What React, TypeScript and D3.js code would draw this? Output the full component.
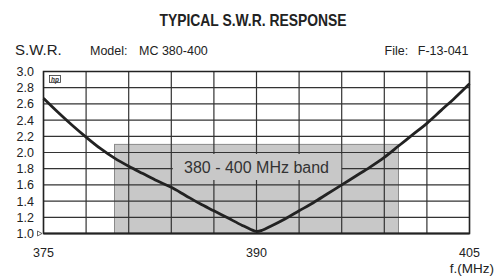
import React from "react";
import * as d3 from "d3";

const freqs = [375, 376, 377, 378, 379, 380, 381, 382, 383, 384, 385, 386, 387, 388, 389, 389.6, 390, 390.4, 391, 392, 393, 394, 395, 396, 397, 398, 399, 400, 401, 402, 403, 404, 405];
const swr = [2.67, 2.5, 2.34, 2.19, 2.05, 1.93, 1.83, 1.74, 1.65, 1.57, 1.47, 1.37, 1.28, 1.19, 1.1, 1.05, 1.025, 1.04, 1.09, 1.18, 1.28, 1.38, 1.49, 1.6, 1.71, 1.82, 1.94, 2.08, 2.22, 2.36, 2.52, 2.68, 2.85];
const yTicks = [1.0, 1.2, 1.4, 1.6, 1.8, 2.0, 2.2, 2.4, 2.6, 2.8, 3.0];
const xGrid = [375, 378, 381, 384, 387, 390, 393, 396, 399, 402, 405];
const xLabels = [375, 390, 405];
const band = { from: 380, to: 400, top: 2.1, label: "380 - 400 MHz band" };
const labelBox = { from: 384, to: 396 };

const FONT = "'Liberation Sans', Arial, Helvetica, sans-serif";

export default function App() {
  const x = d3.scaleLinear().domain([375, 405]).range([43.5, 469.5]);
  const y = d3.scaleLinear().domain([1, 3]).range([233.5, 71.5]);
  const pts: [number, number][] = freqs.map((f, i) => [f, swr[i]]);
  const line = d3
    .line<[number, number]>()
    .x((d) => x(d[0]))
    .y((d) => y(d[1]))
    .curve(d3.curveCatmullRom.alpha(0.5));

  return (
    <svg
      width={495}
      height={276}
      style={{ position: "absolute", left: 0, top: 0, background: "#fff" }}
      fontFamily={FONT}
    >
      <text x={253} y={26} textAnchor="middle" fontWeight="bold" fontSize={16.5} textLength={187} lengthAdjust="spacingAndGlyphs" fill="#222">
        TYPICAL S.W.R. RESPONSE
      </text>
      <text x={15} y={55} fontSize={15} fill="#222">S.W.R.</text>
      <text x={90} y={55} fontSize={12.5} fill="#222">Model:</text>
      <text x={139} y={55} fontSize={12.5} fill="#222">MC 380-400</text>
      <text x={384.5} y={55} fontSize={12.5} fill="#222">File:</text>
      <text x={468.5} y={55} fontSize={12.5} textAnchor="end" fill="#222">F-13-041</text>

      {/* band */}
      <rect
        x={x(band.from)}
        y={y(band.top)}
        width={x(band.to) - x(band.from)}
        height={y(1) - y(band.top)}
        fill="#c8c8c8"
        stroke="#8a8a8a"
        strokeWidth={1}
      />

      {/* grid */}
      {yTicks.map((t) => (
        <line key={"h" + t} x1={x(375)} x2={x(405)} y1={y(t)} y2={y(t)} stroke="#333" strokeWidth={1.2} />
      ))}
      {xGrid.map((f) => (
        <line key={"v" + f} x1={x(f)} x2={x(f)} y1={y(1)} y2={y(3)} stroke="#333" strokeWidth={1.2} />
      ))}
      <rect x={x(375)} y={y(3)} width={x(405) - x(375)} height={y(1) - y(3)} fill="none" stroke="#222" strokeWidth={1.5} />
      <line x1={x(375)} x2={x(405)} y1={y(1)} y2={y(1)} stroke="#222" strokeWidth={2} />

      {/* band label */}
      <rect x={x(labelBox.from) + 1.5} y={154} width={x(labelBox.to) - x(labelBox.from) - 2} height={26} fill="#c8c8c8" />
      <text x={x(390)} y={173} textAnchor="middle" fontSize={16} fill="#333">
        {band.label}
      </text>

      {/* logo */}
      <rect x={49.5} y={75.5} width={11} height={7} fill="none" stroke="#333" strokeWidth={0.8} />
      <text x={55} y={81.5} textAnchor="middle" fontSize={6.5} fontStyle="italic" fontWeight="bold" fill="#333">hp</text>

      {/* curve */}
      <path d={line(pts) || ""} fill="none" stroke="#222" strokeWidth={2.8} strokeLinejoin="round" />

      {/* y labels */}
      {yTicks.map((t) => (
        <text key={"yl" + t} x={34} y={y(t) + 4.5} textAnchor="end" fontSize={12.5} fill="#222">
          {t.toFixed(1)}
        </text>
      ))}
      <path d={`M${x(375) - 6},${y(1) - 2.5} L${x(375) - 1.5},${y(1)} L${x(375) - 6},${y(1) + 2.5} Z`} fill="none" stroke="#444" strokeWidth={0.8} />

      {/* x labels */}
      {xLabels.map((f) => (
        <text key={"xl" + f} x={x(f)} y={257} textAnchor="middle" fontSize={12.5} fill="#222">
          {f}
        </text>
      ))}
      <text x={494} y={273} textAnchor="end" fontSize={13.5} fill="#222">f.(MHz)</text>
    </svg>
  );
}
